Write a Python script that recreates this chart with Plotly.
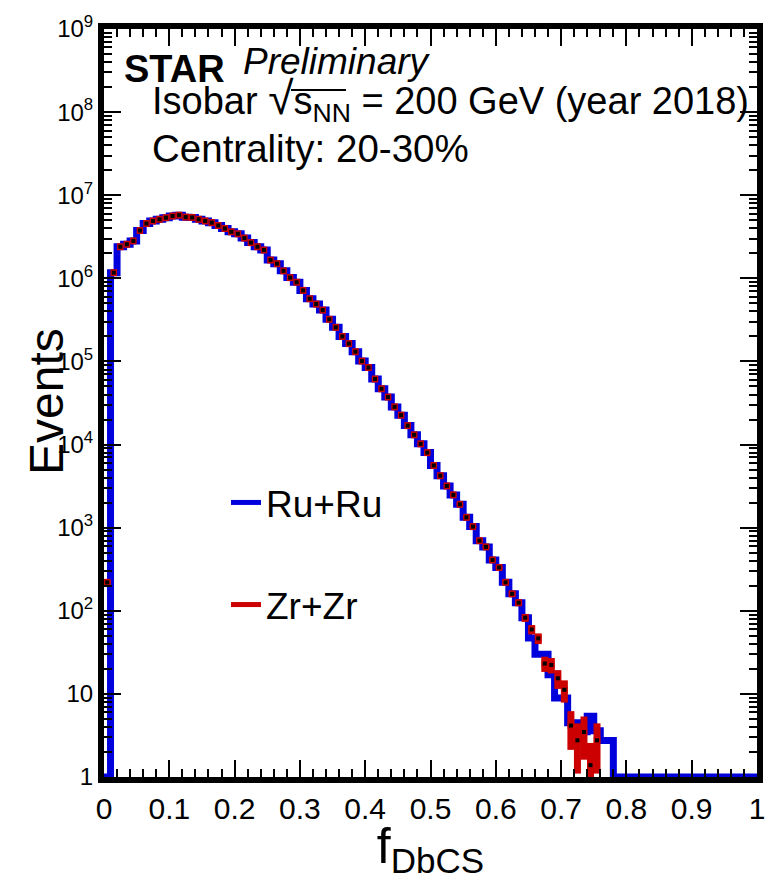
import numpy as np
import plotly.graph_objects as go

# ---------------- data ----------------
bin_width = 0.01
bin_edges = [round(i * bin_width, 2) for i in range(101)]
bin_centers = [round(0.005 + i * bin_width, 3) for i in range(100)]

# Zr+Zr counts per bin (bins 0.00-0.76, empty afterwards)
zr_counts = [
    220, 1.17e6, 2.40e6, 2.57e6, 2.82e6, 3.76e6, 4.57e6, 4.90e6, 5.13e6, 5.37e6,
    5.62e6, 5.75e6, 5.45e6, 5.40e6, 5.13e6, 4.90e6, 4.68e6, 4.32e6, 3.98e6, 3.63e6,
    3.43e6, 3.05e6, 2.69e6, 2.40e6, 2.19e6, 1.66e6, 1.50e6, 1.23e6, 1.02e6, 8.97e5,
    7.16e5, 5.69e5, 4.90e5, 4.15e5, 3.21e5, 2.57e5, 2.00e5, 1.64e5, 1.31e5, 1.01e5,
    8.45e4, 6.15e4, 4.69e4, 3.73e4, 2.84e4, 2.26e4, 1.69e4, 1.31e4, 1.02e4, 8.0e3,
    5.6e3, 4.22e3, 3.18e3, 2.48e3, 1.91e3, 1.33e3, 1.03e3, 698, 587, 409,
    332, 220, 160, 125, 82.6, 59.6, 46.6, 23.2, 22.3, 15.4,
    11.2, 4.16, 2.76, 3.48, 1.39, 2.76,
]

# Ru+Ru counts per bin (empty bins are drawn on the axis minimum, 1)
ru_counts = [
    1, 1.17e6, 2.40e6, 2.57e6, 2.82e6, 3.76e6, 4.57e6, 4.90e6, 5.13e6, 5.37e6,
    5.62e6, 5.75e6, 5.45e6, 5.40e6, 5.13e6, 4.90e6, 4.68e6, 4.32e6, 3.98e6, 3.63e6,
    3.43e6, 3.05e6, 2.69e6, 2.40e6, 2.19e6, 1.66e6, 1.50e6, 1.23e6, 1.02e6, 8.97e5,
    7.16e5, 5.69e5, 4.90e5, 4.15e5, 3.21e5, 2.57e5, 2.00e5, 1.64e5, 1.31e5, 1.01e5,
    8.45e4, 6.15e4, 4.69e4, 3.73e4, 2.84e4, 2.26e4, 1.69e4, 1.31e4, 1.02e4, 8.0e3,
    5.6e3, 4.22e3, 3.18e3, 2.48e3, 1.91e3, 1.33e3, 1.03e3, 698, 587, 409,
    332, 220, 160, 125, 82.6, 47, 30, 30, 17, 8.9,
    8.9, 4.5, 4.5, 3.5, 5.4, 3.6, 2.75, 2.75, 1, 1,
    1, 1, 1, 1, 1, 1, 1, 1, 1, 1,
    1, 1, 1, 1, 1, 1, 1, 1, 1, 1,
]

y_tick_vals = [1, 10, 1e2, 1e3, 1e4, 1e5, 1e6, 1e7, 1e8, 1e9]
y_tick_text = ["1", "10"] + ["10<sup>%d</sup>" % k for k in range(2, 10)]
y_minor_vals = [m * 10 ** k for k in range(0, 9) for m in range(2, 10)]

BLUE = "#0000DD"
RED = "#CC0000"
FONT = "Liberation Sans, Arial, Helvetica, sans-serif"

# ---------------- figure ----------------
W, H = 784, 880
L, R, T, B = 104, 27, 18, 102
pw, ph = W - L - R, H - T - B


def px(xp):
    return (xp - L) / pw


def py(yp):
    return (H - B - yp) / ph


fig = go.Figure()

# Ru+Ru step histogram
step_x = [0.0] + bin_edges[:-1] + [1.0]
step_y = [1] + ru_counts + [ru_counts[-1]]
fig.add_trace(go.Scatter(
    x=step_x, y=step_y, mode="lines", line=dict(color=BLUE, width=7, shape="hv"),
    showlegend=False, hoverinfo="skip",
))

# Zr+Zr points with errors
zr_x = bin_centers[:len(zr_counts)]
zr_err = list(np.sqrt(np.array(zr_counts, dtype=float)))
fig.add_trace(go.Scatter(
    x=zr_x, y=zr_counts, mode="markers",
    marker=dict(symbol="square", size=4, color="black"),
    error_x=dict(type="constant", value=bin_width / 2, thickness=7, width=0, color=RED),
    error_y=dict(type="data", array=zr_err, thickness=7, width=0, color=RED),
    showlegend=False,
))

# legend entries
fig.add_trace(go.Scatter(x=[None], y=[None], mode="lines", name="Ru+Ru",
                         line=dict(color=BLUE, width=5), legendgroup="a"))
fig.add_trace(go.Scatter(x=[None], y=[None], mode="lines", name="Zr+Zr",
                         line=dict(color=RED, width=5), legendgroup="b"))

axis_common = dict(
    showline=True, linecolor="black", linewidth=6, mirror="allticks",
    ticks="inside", tickcolor="black", tickwidth=2, ticklen=17,
    showgrid=False, zeroline=False,
)

fig.update_xaxes(
    range=[0, 1], tickmode="linear", tick0=0, dtick=0.1,
    tickfont=dict(family="Liberation Sans Narrow, Liberation Sans, Arial", size=30, color="black"),
    minor=dict(ticks="inside", dtick=0.02, tick0=0, ticklen=8, tickwidth=2, tickcolor="black"),
    title=dict(text="f<sub>DbCS</sub>", font=dict(family=FONT, size=50, color="black"), standoff=8),
    **axis_common,
)
fig.update_yaxes(
    type="log", range=[0, 9], tickmode="array", tickvals=y_tick_vals, ticktext=y_tick_text,
    tickfont=dict(family=FONT, size=24, color="black"),
    minor=dict(ticks="inside", tickmode="array", tickvals=y_minor_vals, ticklen=8,
               tickwidth=2, tickcolor="black"),
    **axis_common,
)

# y-axis title as a rotated annotation (placed like the reference)
fig.add_annotation(
    text="Events", x=px(46), y=py(397), xref="paper", yref="paper",
    xanchor="center", yanchor="middle", textangle=-90, showarrow=False,
    font=dict(family=FONT, size=48, color="black"),
)

annotations = [
    dict(text="<b>STAR</b>", x=px(122), y=py(74), size=38),
    dict(text="<i>Preliminary</i>", x=px(241), y=py(66), size=37),
    dict(text="Isobar <span style='font-size:46px'>√</span>s<sub>NN</sub> = 200 GeV (year 2018)",
         x=px(150), y=py(113), size=38),
    dict(text="Centrality: 20-30%", x=px(150), y=py(155), size=38.5),
]
for a in annotations:
    fig.add_annotation(
        text=a["text"], x=a["x"], y=a["y"], xref="paper", yref="paper",
        xanchor="left", yanchor="bottom", showarrow=False, yshift=-0.2 * a["size"],
        font=dict(family=FONT, size=a["size"], color="black"),
    )

# overline of the square root
fig.add_shape(type="line", xref="paper", yref="paper",
              x0=px(291), x1=px(346), y0=py(80), y1=py(80),
              line=dict(color="black", width=2))

fig.update_layout(
    width=W, height=H, margin=dict(l=L, r=R, t=T, b=B),
    paper_bgcolor="white", plot_bgcolor="white",
    showlegend=True,
    legend=dict(
        x=px(226), y=py(468), xanchor="left", yanchor="top",
        font=dict(family=FONT, size=37, color="black"),
        bgcolor="rgba(0,0,0,0)", borderwidth=0, tracegroupgap=51,
        traceorder="grouped", itemwidth=30,
    ),
)

fig.write_html("out.html")
